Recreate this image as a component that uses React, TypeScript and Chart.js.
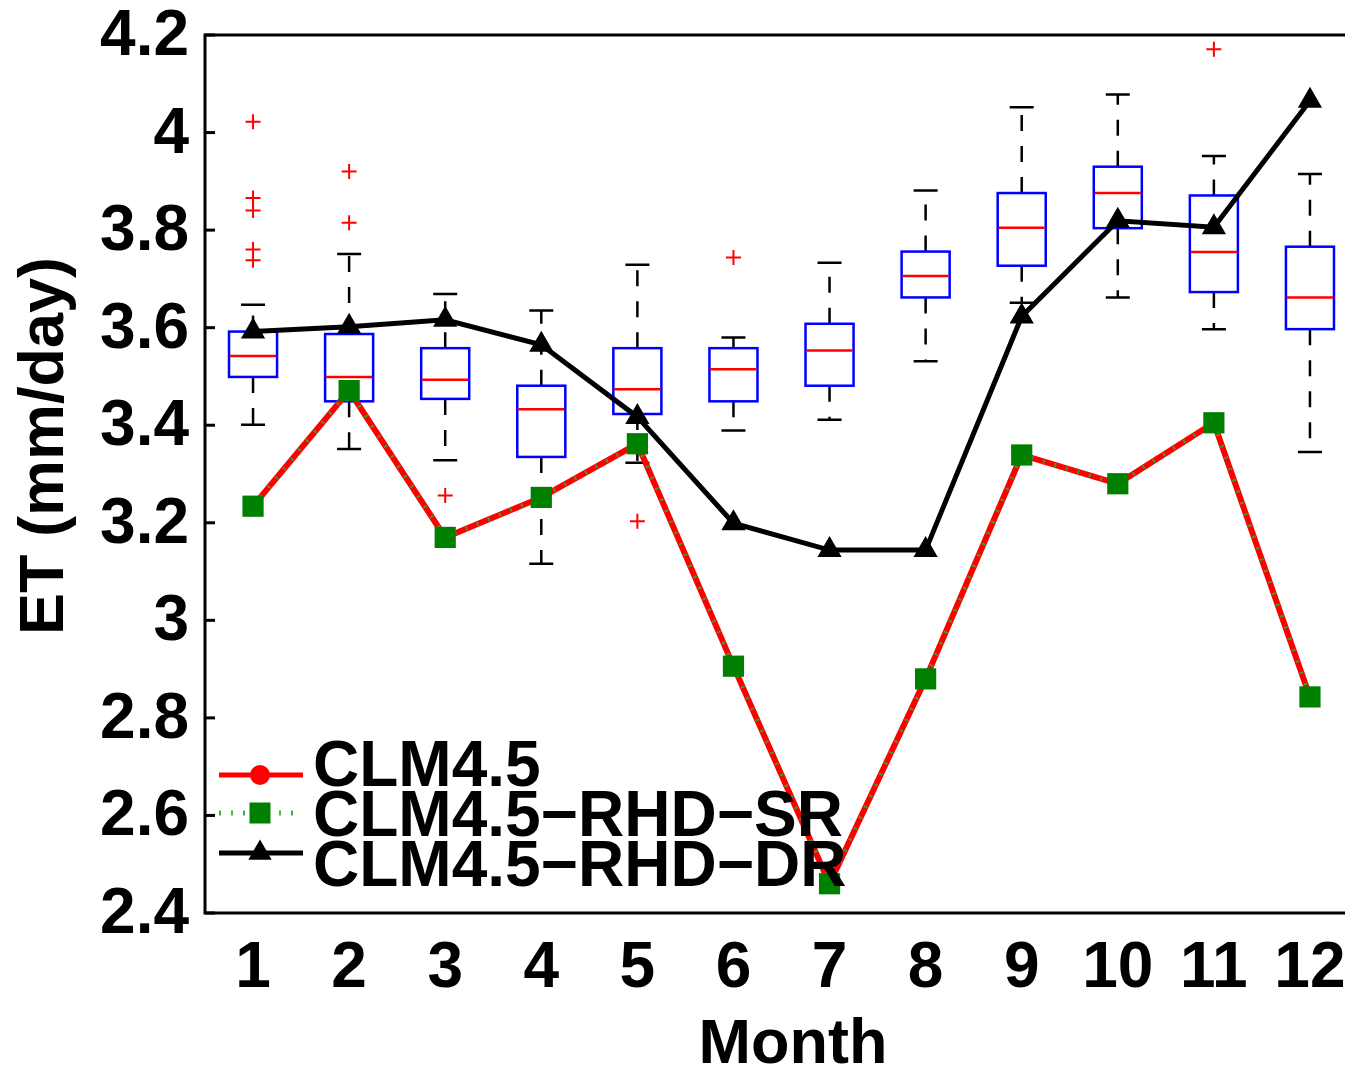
import React, { useEffect, useRef } from "react";
import { Chart, registerables } from "chart.js";

Chart.register(...registerables);

// Months on the x axis
const months = [1, 2, 3, 4, 5, 6, 7, 8, 9, 10, 11, 12];
const monthLabels = ["1", "2", "3", "4", "5", "6", "7", "8", "9", "10", "11", "12"];

// Y axis ticks (mm/day)
const yTickValues = [2.4, 2.6, 2.8, 3.0, 3.2, 3.4, 3.6, 3.8, 4.0, 4.2];
const yTickLabels = ["2.4", "2.6", "2.8", "3", "3.2", "3.4", "3.6", "3.8", "4", "4.2"];

// Model runs, monthly mean ET (mm/day)
const clm45 = [3.234, 3.471, 3.17, 3.252, 3.362, 2.906, 2.46, 2.88, 3.339, 3.28, 3.405, 2.843];
const clm45RhdSr = [3.234, 3.471, 3.17, 3.252, 3.362, 2.906, 2.46, 2.88, 3.339, 3.28, 3.405, 2.843];
const clm45RhdDr = [3.592, 3.602, 3.616, 3.565, 3.417, 3.199, 3.144, 3.144, 3.623, 3.819, 3.806, 4.065];

// Observation-based boxplot statistics per month
const whiskerLow = [3.401, 3.351, 3.328, 3.116, 3.323, 3.389, 3.411, 3.531, 3.651, 3.662, 3.597, 3.345];
const quartile1 = [3.499, 3.449, 3.454, 3.335, 3.423, 3.449, 3.481, 3.662, 3.727, 3.804, 3.673, 3.597];
const medians = [3.542, 3.499, 3.493, 3.433, 3.474, 3.515, 3.553, 3.706, 3.805, 3.876, 3.755, 3.662];
const quartile3 = [3.592, 3.587, 3.558, 3.481, 3.558, 3.558, 3.608, 3.756, 3.876, 3.93, 3.871, 3.766];
const whiskerHigh = [3.647, 3.751, 3.669, 3.635, 3.729, 3.58, 3.733, 3.881, 4.052, 4.078, 3.952, 3.915];
const outliers: number[][] = [
  [4.022, 3.866, 3.84, 3.76, 3.738],
  [3.92, 3.815],
  [3.256],
  [],
  [3.203],
  [3.744],
  [],
  [],
  [],
  [],
  [4.171],
  [],
];

const FONT = '"Liberation Sans", Arial, sans-serif';

const boxPlugin = {
  id: "monthlyBoxes",
  beforeDatasetsDraw(chart: any) {
    const { ctx } = chart;
    const x = chart.scales.x;
    const y = chart.scales.y;
    const halfBox = x.getPixelForValue(1.25) - x.getPixelForValue(1);
    const halfCap = x.getPixelForValue(1.125) - x.getPixelForValue(1);
    ctx.save();
    months.forEach((m, i) => {
      const cx = x.getPixelForValue(m);
      const yLo = y.getPixelForValue(whiskerLow[i]);
      const yQ1 = y.getPixelForValue(quartile1[i]);
      const yMed = y.getPixelForValue(medians[i]);
      const yQ3 = y.getPixelForValue(quartile3[i]);
      const yHi = y.getPixelForValue(whiskerHigh[i]);

      // dashed whiskers
      ctx.strokeStyle = "#000";
      ctx.lineWidth = 2.5;
      ctx.lineCap = "butt";
      ctx.setLineDash([16, 15]);
      ctx.beginPath();
      ctx.moveTo(cx, yQ3);
      ctx.lineTo(cx, yHi);
      ctx.stroke();
      ctx.beginPath();
      ctx.moveTo(cx, yQ1);
      ctx.lineTo(cx, yLo);
      ctx.stroke();
      ctx.setLineDash([]);

      // whisker caps
      ctx.beginPath();
      ctx.moveTo(cx - halfCap, yHi);
      ctx.lineTo(cx + halfCap, yHi);
      ctx.moveTo(cx - halfCap, yLo);
      ctx.lineTo(cx + halfCap, yLo);
      ctx.stroke();

      // box
      ctx.fillStyle = "#fff";
      ctx.fillRect(cx - halfBox, yQ3, 2 * halfBox, yQ1 - yQ3);
      ctx.strokeStyle = "#0000ff";
      ctx.lineWidth = 2.5;
      ctx.strokeRect(cx - halfBox, yQ3, 2 * halfBox, yQ1 - yQ3);

      // median
      ctx.strokeStyle = "#ff0000";
      ctx.lineWidth = 2.5;
      ctx.beginPath();
      ctx.moveTo(cx - halfBox + 1, yMed);
      ctx.lineTo(cx + halfBox - 1, yMed);
      ctx.stroke();

      // outliers
      ctx.lineWidth = 2;
      outliers[i].forEach((v) => {
        const oy = y.getPixelForValue(v);
        ctx.beginPath();
        ctx.moveTo(cx - 7.5, oy);
        ctx.lineTo(cx + 7.5, oy);
        ctx.moveTo(cx, oy - 7.5);
        ctx.lineTo(cx, oy + 7.5);
        ctx.stroke();
      });
    });
    ctx.restore();
  },
};

const axesPlugin = {
  id: "frameAndLegend",
  afterDatasetsDraw(chart: any) {
    const { ctx, chartArea } = chart;
    const x = chart.scales.x;
    const y = chart.scales.y;
    const { left, top, right, bottom } = chartArea;
    ctx.save();

    // frame
    ctx.strokeStyle = "#000";
    ctx.lineWidth = 3;
    ctx.setLineDash([]);
    ctx.beginPath();
    ctx.moveTo(right, top);
    ctx.lineTo(left, top);
    ctx.lineTo(left, bottom);
    ctx.lineTo(right, bottom);
    ctx.lineTo(right, top);
    ctx.stroke();

    // inward y ticks and labels
    ctx.fillStyle = "#000";
    ctx.font = `bold 64px ${FONT}`;
    ctx.textAlign = "right";
    ctx.textBaseline = "alphabetic";
    yTickValues.forEach((v, i) => {
      const py = y.getPixelForValue(v);
      ctx.beginPath();
      ctx.moveTo(left, py);
      ctx.lineTo(left + 10, py);
      ctx.stroke();
      ctx.fillText(yTickLabels[i], left - 16, py + 20);
    });

    // x tick labels
    ctx.textAlign = "center";
    months.forEach((m, i) => {
      ctx.fillText(monthLabels[i], x.getPixelForValue(m), 987);
    });

    // axis titles
    ctx.font = `bold 63px ${FONT}`;
    ctx.fillText("Month", 793, 1063);
    ctx.save();
    ctx.translate(63, 446);
    ctx.rotate(-Math.PI / 2);
    ctx.fillText("ET (mm/day)", 0, 0);
    ctx.restore();

    // legend
    const lx0 = 219;
    const lx1 = 303;
    const mx = 260;
    // CLM4.5
    ctx.strokeStyle = "#ff0000";
    ctx.lineWidth = 5;
    ctx.beginPath();
    ctx.moveTo(lx0, 775);
    ctx.lineTo(lx1, 775);
    ctx.stroke();
    ctx.fillStyle = "#ff0000";
    ctx.beginPath();
    ctx.arc(mx, 775, 10, 0, Math.PI * 2);
    ctx.fill();
    // CLM4.5-RHD-SR
    ctx.strokeStyle = "#4caf50";
    ctx.lineWidth = 5;
    ctx.setLineDash([2, 10]);
    ctx.beginPath();
    ctx.moveTo(lx0, 813);
    ctx.lineTo(lx1, 813);
    ctx.stroke();
    ctx.setLineDash([]);
    ctx.fillStyle = "#008000";
    ctx.fillRect(mx - 10.5, 813 - 10.5, 21, 21);
    // CLM4.5-RHD-DR
    ctx.strokeStyle = "#000";
    ctx.lineWidth = 5;
    ctx.beginPath();
    ctx.moveTo(lx0, 853);
    ctx.lineTo(lx1, 853);
    ctx.stroke();
    ctx.fillStyle = "#000";
    const r = 13.5;
    ctx.beginPath();
    ctx.moveTo(mx, 853 - r);
    ctx.lineTo(mx + r * Math.sin((2 * Math.PI) / 3), 853 + r / 2);
    ctx.lineTo(mx - r * Math.sin((2 * Math.PI) / 3), 853 + r / 2);
    ctx.closePath();
    ctx.fill();

    ctx.font = `bold 64px ${FONT}`;
    ctx.textAlign = "left";
    ctx.fillText("CLM4.5", 313, 786);
    ctx.fillText("CLM4.5\u2212RHD\u2212SR", 313, 836);
    ctx.fillText("CLM4.5\u2212RHD\u2212DR", 313, 886);

    ctx.restore();
  },
};

const toPoints = (vals: number[]) => months.map((m, i) => ({ x: m, y: vals[i] }));

export default function App() {
  const canvasRef = useRef<HTMLCanvasElement | null>(null);

  useEffect(() => {
    document.body.style.margin = "0";
    const canvas = canvasRef.current;
    if (!canvas) return;
    const chart = new Chart(canvas, {
      type: "line",
      data: {
        datasets: [
          {
            label: "CLM4.5-RHD-DR",
            data: toPoints(clm45RhdDr),
            borderColor: "#000",
            backgroundColor: "#000",
            borderWidth: 5,
            pointStyle: "triangle",
            pointRadius: 14,
            pointBorderWidth: 0,
            pointBackgroundColor: "#000",
            order: 0,
          },
          {
            label: "CLM4.5-RHD-SR",
            data: toPoints(clm45RhdSr),
            borderColor: "#3a9a3a",
            backgroundColor: "#008000",
            borderWidth: 4,
            borderDash: [2, 10],
            pointStyle: "rect",
            pointRadius: 15,
            pointBorderWidth: 0,
            pointBackgroundColor: "#008000",
            order: 1,
          },
          {
            label: "CLM4.5",
            data: toPoints(clm45),
            borderColor: "#ff0000",
            backgroundColor: "#ff0000",
            borderWidth: 6,
            pointStyle: "circle",
            pointRadius: 10,
            pointBorderWidth: 0,
            pointBackgroundColor: "#ff0000",
            order: 2,
          },
        ],
      },
      options: {
        animation: false,
        responsive: false,
        maintainAspectRatio: false,
        devicePixelRatio: 1,
        layout: { autoPadding: false, padding: { left: 205, top: 35, right: 2, bottom: 156 } },
        scales: {
          x: { type: "linear", min: 0.5, max: 12.5, display: false },
          y: { type: "linear", min: 2.4, max: 4.2, display: false },
        },
        plugins: {
          legend: { display: false },
          tooltip: { enabled: false },
        },
        elements: { line: { tension: 0 } },
      },
      plugins: [boxPlugin, axesPlugin],
    });
    return () => chart.destroy();
  }, []);

  return (
    <div
      style={{
        position: "fixed",
        left: 0,
        top: 0,
        width: 1345,
        height: 1069,
        overflow: "hidden",
        background: "#fff",
      }}
    >
      <canvas ref={canvasRef} width={1360} height={1069} style={{ display: "block" }} />
    </div>
  );
}
